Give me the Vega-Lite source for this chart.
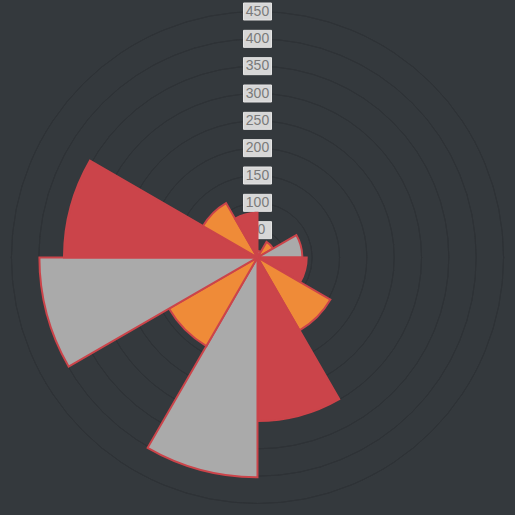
{
  "$schema": "https://vega.github.io/schema/vega-lite/v6.json",
  "width": 515,
  "height": 515,
  "padding": 0,
  "autosize": {"type": "none"},
  "background": "#34393d",
  "config": {"view": {"stroke": null}},
  "datasets": {
    "ticks": [{"v": 50}, {"v": 100}, {"v": 150}, {"v": 200}, {"v": 250}, {"v": 300}, {"v": 350}, {"v": 400}, {"v": 450}],
    "segments": [
      {"i": 0, "group": "C", "value": 12},
      {"i": 1, "group": "B", "value": 33},
      {"i": 2, "group": "C", "value": 82},
      {"i": 3, "group": "A", "value": 90},
      {"i": 4, "group": "B", "value": 154},
      {"i": 5, "group": "A", "value": 299},
      {"i": 6, "group": "C", "value": 402},
      {"i": 7, "group": "B", "value": 187},
      {"i": 8, "group": "C", "value": 399},
      {"i": 9, "group": "A", "value": 354},
      {"i": 10, "group": "B", "value": 115},
      {"i": 11, "group": "A", "value": 82}
    ]
  },
  "layer": [
    {
      "data": {"name": "ticks"},
      "mark": {"type": "arc", "theta": 0, "theta2": 6.2832, "fill": "transparent", "stroke": "#2e3236", "strokeWidth": 1},
      "encoding": {
        "radius": {"field": "v", "type": "quantitative", "scale": {"type": "linear", "domain": [0, 450], "range": [0, 246], "nice": false, "zero": true}},
        "radius2": {"field": "v"}
      }
    },
    {
      "data": {"name": "ticks"},
      "mark": {"type": "point", "shape": "M-1.4,-0.85H1.4V0.85H-1.4Z", "size": 400, "filled": true, "fill": "#d7d7d7", "stroke": "#e4e4e4", "strokeWidth": 1, "opacity": 1},
      "encoding": {
        "x": {"datum": 0, "type": "quantitative", "scale": {"domain": [-1, 1], "range": [0, 515], "nice": false, "zero": false}, "axis": null},
        "y": {"field": "v", "type": "quantitative", "scale": {"domain": [0, 450], "range": [257.5, 11.5], "nice": false, "zero": false}, "axis": null}
      }
    },
    {
      "data": {"name": "ticks"},
      "mark": {"type": "text", "font": "Liberation Sans", "fontSize": 14, "color": "#7a7a7a", "align": "center", "baseline": "middle"},
      "encoding": {
        "x": {"datum": 0, "type": "quantitative"},
        "y": {"field": "v", "type": "quantitative"},
        "text": {"field": "v", "type": "quantitative"}
      }
    },
    {
      "data": {"name": "segments"},
      "transform": [
        {"aggregate": [{"op": "count", "as": "n"}], "groupby": ["i", "group", "value"]},
        {"stack": "n", "groupby": [], "sort": [{"field": "i", "order": "ascending"}], "as": ["t0", "t1"]}
      ],
      "mark": {"type": "arc", "stroke": "#cb444a", "strokeWidth": 2},
      "encoding": {
        "theta": {"field": "t0", "type": "quantitative", "scale": {"domain": [0, 12], "range": [0, 6.2832], "nice": false, "zero": true}},
        "theta2": {"field": "t1"},
        "radius": {"field": "value", "type": "quantitative"},
        "color": {"field": "group", "type": "nominal", "scale": {"domain": ["A", "B", "C"], "range": ["#cb444a", "#ef8b38", "#aaaaaa"]}, "legend": null}
      }
    }
  ]
}
